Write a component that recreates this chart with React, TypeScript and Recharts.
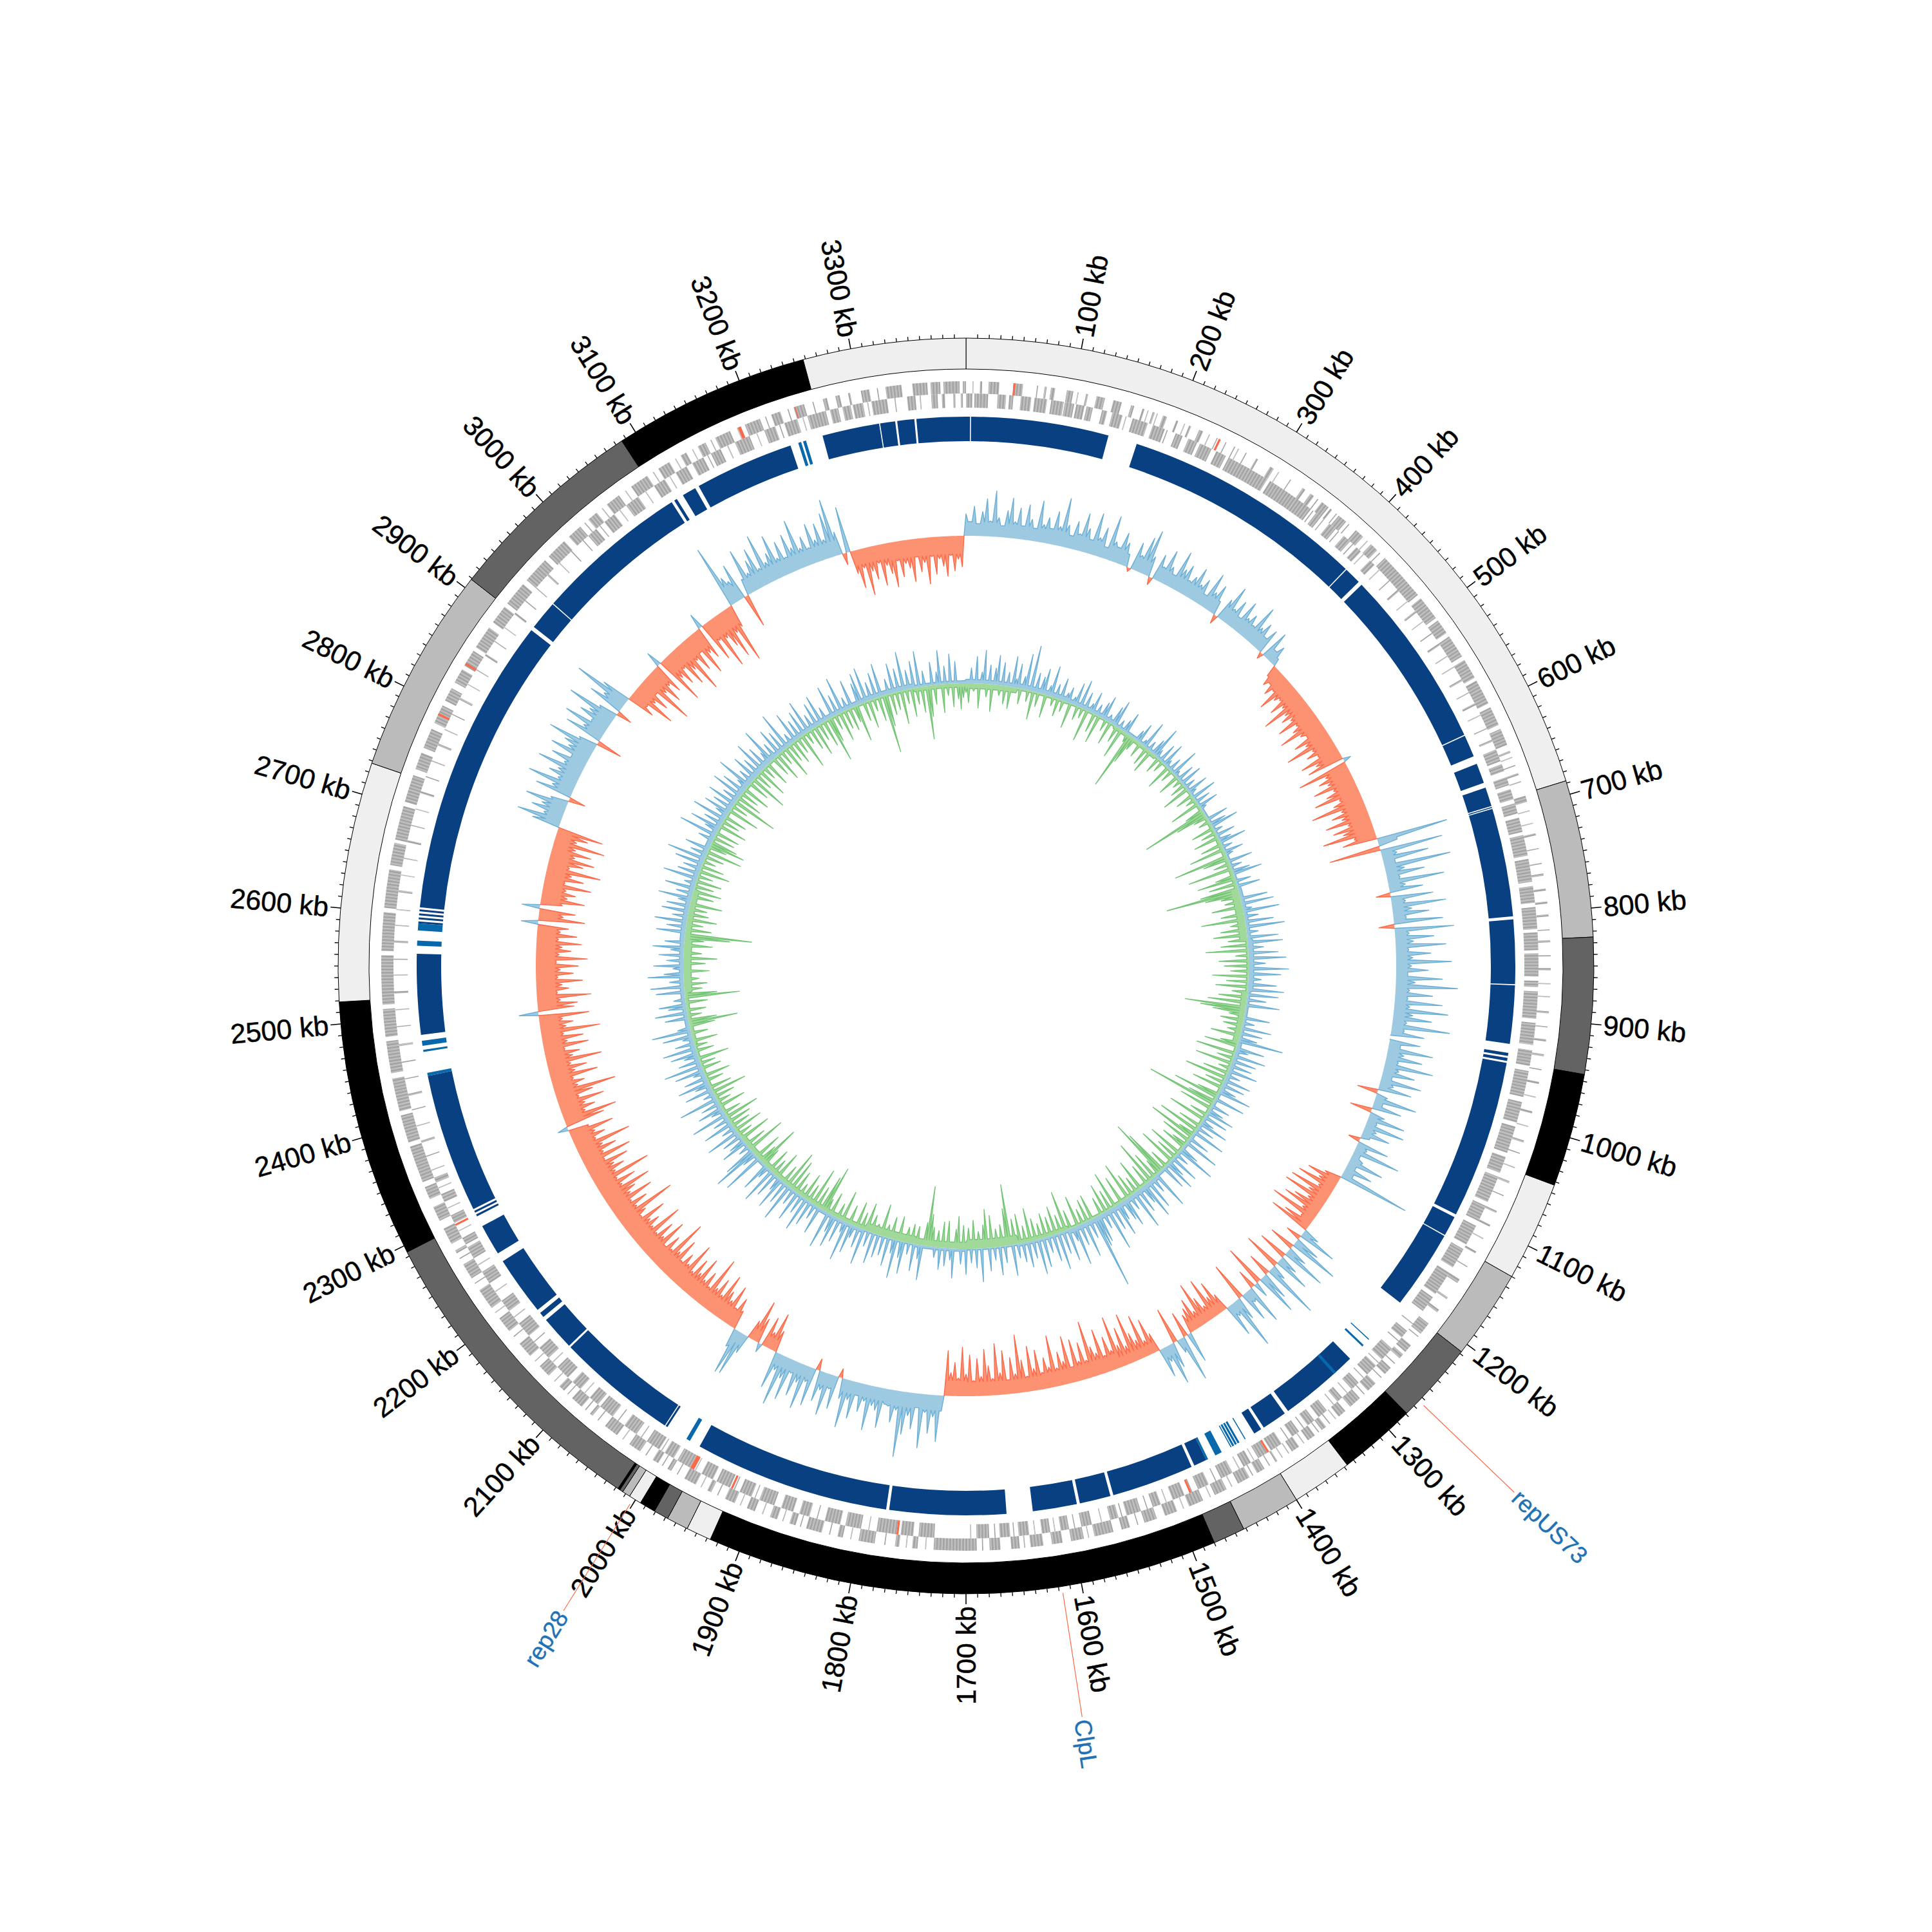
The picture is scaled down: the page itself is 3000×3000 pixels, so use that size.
import React from 'react';
import { PieChart, Pie, Cell, RadarChart, Radar, PolarAngleAxis, PolarRadiusAxis } from 'recharts';

const SIZE = 3000;
const CX = 1500;
const CY = 1500;
const TOTAL_KB = 3400;

// radii of the tracks, px
const RING_OUT = 975;
const RING_IN = 927;
const SKEW_R = 668;
const GC_R = 439;

const tickLabels = [100, 200, 300, 400, 500, 600, 700, 800, 900, 1000, 1100, 1200, 1300, 1400, 1500, 1600, 1700, 1800, 1900, 2000, 2100, 2200, 2300, 2400, 2500, 2600, 2700, 2800, 2900, 3000, 3100, 3200, 3300];

const annotationKb = [1264, 1617, 2002];
const annotationNames = ['repUS73', 'ClpL', 'rep28'];

// contig ring, edges in kb with the colour of each piece
const contigEdges = [0, 688, 825, 944, 1043, 1130, 1208, 1279, 1347, 1400, 1452, 1480, 1927, 1949, 1968, 1981, 1995, 2006, 2013, 2016, 2018, 2294, 2519, 2728, 2909, 3086, 3258, 3400];
const contigColors = ['#efefef', '#bbbbbb', '#636363', '#000000', '#efefef', '#bbbbbb', '#636363', '#000000', '#efefef', '#bbbbbb', '#636363', '#000000', '#efefef', '#bbbbbb', '#636363', '#000000', '#efefef', '#bbbbbb', '#636363', '#000000', '#636363', '#000000', '#efefef', '#bbbbbb', '#636363', '#000000', '#efefef'];

// start,end pairs in kb
const genesOuter = [
  6, 7, 13, 15, 21, 31, 44, 53, 66, 67, 73, 75, 79, 83, 94, 100, 104, 105, 112, 114, 122, 130, 138, 146, 155, 158, 166, 168, 171, 172, 176, 178, 180, 181, 186, 190, 199, 201, 207, 208, 212, 214, 222, 226, 232, 233, 240, 241, 249, 250, 258, 259, 262, 263, 270, 271, 281, 283, 296, 300,
  305, 306, 318, 319, 332, 335, 341, 345, 349, 350, 354, 362, 364, 366, 371, 372, 374, 383, 386, 387, 395, 404, 409, 410, 414, 422, 425, 426, 432, 478, 482, 505, 508, 522, 526, 548, 552, 571, 574, 598, 602, 620, 624, 640,
  646, 648, 652, 653, 660, 661, 668, 670, 676, 677, 690, 696, 704, 705, 716, 717, 726, 728, 740, 741, 754, 755, 764, 766, 778, 780, 790, 792, 802, 804, 816, 817, 826, 828, 840, 841, 852, 854, 866, 867, 878, 879, 892, 894, 906, 907, 918, 920, 932, 934, 946, 947, 958, 960, 972, 973, 986, 988,
  1000, 1001, 1014, 1016, 1026, 1027, 1040, 1041, 1054, 1056, 1068, 1069, 1084, 1086, 1098, 1100, 1112, 1113, 1126, 1128, 1142, 1143, 1156, 1160, 1176, 1178, 1190, 1193,
  1206, 1218, 1221, 1222, 1232, 1240, 1243, 1248, 1254, 1255, 1260, 1268, 1272, 1273, 1280, 1290, 1294, 1295, 1300, 1312, 1318, 1326, 1329, 1330, 1336, 1337, 1341, 1346, 1349, 1350, 1354, 1362, 1366, 1367, 1372, 1380, 1383, 1384, 1390, 1391, 1396, 1398, 1404, 1405, 1410, 1418, 1422, 1423, 1426, 1438, 1444, 1445, 1450, 1462, 1466, 1467, 1474, 1488, 1493, 1494, 1500, 1512, 1520, 1532, 1538, 1539, 1546, 1554, 1562, 1580, 1585, 1586, 1590, 1602, 1610, 1620, 1628, 1640, 1645, 1646, 1650, 1658, 1668, 1678, 1684, 1685, 1690, 1730,
  1737, 1738, 1745, 1750, 1755, 1756, 1762, 1766, 1775, 1776, 1785, 1800, 1807, 1808, 1815, 1820, 1827, 1828, 1835, 1850, 1855, 1856, 1860, 1866, 1872, 1873, 1878, 1885, 1892, 1893, 1900, 1908, 1914, 1915, 1920, 1930, 1937, 1938, 1944, 1948, 1954, 1955, 1960, 1972, 1979, 1980, 1986, 1990, 1995, 1996, 2000, 2006, 2013, 2014, 2020, 2032, 2039, 2040, 2046, 2060, 2068, 2069, 2075, 2078, 2083, 2084, 2088, 2100, 2105, 2106, 2110, 2116, 2122, 2123, 2130, 2142, 2148, 2149, 2155, 2170, 2178, 2179, 2185, 2200, 2206, 2207, 2212, 2232, 2239, 2240, 2245, 2260, 2266, 2267, 2272, 2275, 2282, 2298, 2306, 2320, 2328, 2340,
  2345, 2380, 2384, 2410, 2414, 2445, 2450, 2480, 2484, 2510, 2514, 2560, 2564, 2600, 2604, 2640, 2644, 2665, 2668, 2700, 2704, 2730, 2736, 2752, 2757, 2776, 2782, 2800, 2805, 2818, 2824, 2838, 2842, 2858, 2862, 2884, 2890, 2908, 2912, 2935, 2940, 2965, 2970, 2990,
  2996, 3010, 3015, 3016, 3020, 3030, 3036, 3037, 3042, 3056, 3063, 3064, 3070, 3088, 3094, 3095, 3100, 3112, 3118, 3119, 3124, 3130, 3136, 3137, 3142, 3150, 3155, 3156, 3160, 3175, 3182, 3183, 3190, 3205, 3210, 3211, 3216, 3225, 3232, 3233, 3238, 3248, 3256, 3257, 3266, 3270, 3278, 3282, 3290, 3292, 3302, 3310, 3317, 3318, 3325, 3340, 3350, 3364, 3367, 3376, 3379, 3394, 3397, 3400,
];
const genesInner = [
  0, 6, 8, 21, 30, 38, 41, 45, 52, 62, 65, 77, 81, 93, 94, 103, 105, 113, 115, 121, 130, 135, 140, 150, 153, 154, 160, 175, 180, 192, 194, 195, 203, 210, 216, 225, 228, 240, 245, 255, 258, 300, 303, 350, 352, 353, 356, 362, 365, 366, 372, 380, 383, 384, 390, 398, 401, 402, 406, 412, 415, 416, 424, 430,
  436, 437, 450, 451, 462, 464, 476, 477, 488, 490, 500, 501, 514, 515, 526, 528, 540, 541, 552, 553, 566, 568, 580, 581, 592, 594, 604, 605, 618, 619, 630, 632,
  640, 652, 655, 662, 668, 676, 680, 690, 694, 704, 708, 722, 725, 745, 748, 770, 774, 790, 794, 815, 818, 835, 838, 860, 864, 870, 874, 900, 904, 925, 930, 945, 950, 975, 980, 1000, 1004, 1030, 1034, 1050, 1054, 1080, 1084, 1100, 1105, 1125, 1130, 1150, 1156, 1180, 1184, 1200,
  1215, 1216, 1224, 1232, 1236, 1237, 1246, 1260, 1264, 1265, 1268, 1280, 1284, 1285, 1291, 1300, 1305, 1306, 1312, 1318, 1322, 1323, 1331, 1341, 1346, 1354, 1358, 1359, 1364, 1372, 1376, 1377, 1384, 1396, 1400, 1410, 1414, 1415, 1418, 1426, 1430, 1431, 1438, 1450, 1455, 1456, 1463, 1474, 1480, 1481, 1488, 1500, 1506, 1507, 1512, 1520, 1525, 1526, 1532, 1546, 1550, 1551, 1554, 1562, 1570, 1571, 1580, 1590, 1596, 1597, 1602, 1610, 1615, 1616, 1620, 1628, 1634, 1635, 1640, 1650, 1654, 1655, 1658, 1668, 1672, 1673, 1678, 1690, 1695, 1696,
  1730, 1745, 1750, 1762, 1766, 1785, 1792, 1793, 1800, 1815, 1820, 1835, 1842, 1843, 1850, 1860, 1866, 1878, 1885, 1900, 1904, 1905, 1908, 1920, 1925, 1926, 1930, 1944, 1948, 1960, 1966, 1967, 1972, 1986, 1990, 2000, 2003, 2004, 2006, 2020, 2026, 2027, 2032, 2046, 2053, 2054, 2060, 2075, 2078, 2088, 2094, 2095, 2100, 2110, 2116, 2130, 2136, 2137, 2142, 2155, 2162, 2163, 2170, 2185, 2192, 2193, 2200, 2212, 2222, 2223, 2232, 2245, 2252, 2253, 2260, 2272, 2275, 2282, 2289, 2290, 2298, 2306, 2313, 2314, 2320, 2328, 2334, 2335, 2340, 2345,
  2352, 2353, 2366, 2367, 2380, 2382, 2396, 2397, 2412, 2413, 2426, 2428, 2442, 2443, 2458, 2459, 2474, 2476, 2492, 2493, 2508, 2509, 2524, 2526, 2541, 2542, 2556, 2557, 2572, 2574, 2588, 2589, 2603, 2604, 2620, 2622, 2636, 2637, 2652, 2653, 2668, 2670, 2684, 2685, 2700, 2701, 2716, 2718, 2732, 2733, 2748, 2749, 2764, 2766, 2780, 2781, 2796, 2797, 2812, 2814, 2828, 2829, 2844, 2845, 2860, 2862, 2876, 2877, 2892, 2893, 2908, 2910, 2924, 2925, 2940, 2941, 2956, 2958, 2972, 2973, 2988, 2989,
  3003, 3004, 3010, 3020, 3024, 3025, 3030, 3042, 3048, 3049, 3056, 3070, 3078, 3079, 3088, 3100, 3105, 3106, 3112, 3124, 3130, 3142, 3146, 3147, 3150, 3160, 3167, 3168, 3175, 3190, 3197, 3198, 3205, 3216, 3220, 3221, 3225, 3238, 3243, 3244, 3248, 3266, 3270, 3278, 3282, 3290, 3292, 3302, 3306, 3307, 3310, 3325, 3332, 3333, 3344, 3352, 3356, 3357, 3367, 3373, 3377, 3380, 3388, 3390, 3395, 3397,
];
const redOuter = [44, 46, 242, 244, 2790, 2792, 2843, 2845, 3183, 3186, 3239, 3240];
const redInner = [1398, 1400, 1481, 1483, 1764, 1766, 1927, 1929, 1968, 1972, 2295, 2297];

// conserved blocks, start,end pairs in kb
const blocksMain = [
  0, 4, 5, 142, 171, 413, 414, 431, 435, 615, 616, 638, 646, 666, 671, 690, 691, 692, 693, 801, 804, 868, 869, 927, 936, 939, 941, 944, 946, 1104, 1107, 1127, 1128, 1207,
  1281, 1361, 1365, 1390, 1393, 1401, 1455, 1468, 1471, 1553, 1556, 1587, 1590, 1634, 1660, 1776, 1779, 1974, 2011, 2013, 2014, 2135, 2137, 2171, 2175, 2180, 2184, 2243, 2252, 2283,
  2294, 2296, 2298, 2300, 2302, 2441, 2482, 2562, 2592, 2594, 2596, 2598, 2600, 2602, 2604, 2606, 2608, 2906, 2910, 2939, 2940, 3094, 3097, 3100, 3107, 3121, 3125, 3224, 3257, 3314, 3315, 3330, 3332, 3349, 3351, 3400,
];
const blocksThin = [1254, 1255, 1262, 1264, 1300, 1303, 1411, 1412, 1418, 1420, 1421, 1423, 1424, 1426, 1427, 1428, 1438, 1445, 1453, 1455, 1985, 1989, 2441, 2444, 2465, 2467, 2471, 2476, 2570, 2575, 2585, 2592, 3232, 3235, 3237, 3240];

// GC skew needles, one value per 5 kb (20 to a line = 100 kb), px from the baseline, + outward
const skew = [
  34, 22, 46, 19, 38, 58, 24, 71, 30, 18, 42, 62, 26, 48, 21, 55, 33, 20, 64, 28,
  40, 24, 52, 30, 76, 35, 20, 44, 26, 60, 38, 22, 66, 29, 47, 18, 70, 31, 24, 50,
  36, 20, -6, 44, 26, 58, 72, 32, -12, 41, 24, 54, 30, 20, 62, 36, 46, 24, 34, 52,
  28, 40, 18, 58, 30, 46, 22, -14, 34, 60, 26, 44, 20, 52, 28, 38, 24, 62, 30, 42,
  22, 40, -10, 46, 18, 30, 12, -18, -32, -24, -40, -28, -58, -36, -30, -52, -34, -72, -38, -48,
  -36, -62, -34, -44, -70, -38, -30, -56, -40, -76, -35, -48, -32, -64, -42, -58, 12, -80, -38, -52,
  -40, -66, -36, -50, -72, -34, -46, -84, -38, -56, -42, -70, -36, -62, -48, -82, -34, -54, 112, 30,
  -80, 98, 24, 72, 18, 104, 30, 60, 20, 88, 26, 52, -22, 66, 22, 84, 30, 56, 20, 76,
  -24, 92, 22, 60, 28, 78, 20, 54, 26, 86, 24, 50, 18, 72, 30, 96, 22, 58, 20, 74,
  24, 84, 30, 60, 22, 90, 20, 52, 0, 48, 18, 70, 26, 56, 20, 76, 24, 50, 16, 64,
  22, 52, -32, 18, 66, 14, 46, -34, 24, 58, 16, 62, 20, 44, 14, -18, 50, 18, 74, 12,
  20, 56, 14, 44, 16, 112, -26, -52, -30, -62, -24, -68, -34, -72, -28, -48, -62, -26, -76, -20,
  -46, -66, 26, 60, -24, 40, 78, -40, 32, 70, -46, 30, 56, -58, 24, 88, -36, 44, 66, -64,
  24, -30, 62, 20, 48, -60, 36, 82, 22, 52, -28, -54, -32, -66, -24, -42, -70, -26, -50, -38,
  -30, 48, -40, 72, 22, -56, 40, 64, 24, 46, -30, -56, -24, -68, -30, -44, -78, -28, -60, -34,
  -82, -30, -54, -26, -70, -34, -46, -88, -28, -58, -30, -66, -24, -74, -36, -52, -28, -80, -32, -48,
  -26, -62, -34, -70, -24, -50, -90, -30, -56, -22, -68, -34, -80, -26, -46, -72, -30, -58, -24, -64,
  -34, -76, -28, -52, -36, -70, 24, 72, 34, 60, 28, 84, 22, 56, 36, 66, 102, 30, 50, 26,
  24, 62, 36, 30, 70, 26, 44, 20, 58, 30, 76, 32, -14, 52, 22, 66, 28, 48, -18, 60,
  24, 70, 30, 54, 20, 66, 34, 80, 26, 58, -34, -60, -26, -48, 14, -40, -66, -30, 30, 70,
  72, 30, -30, -48, -28, -62, -34, -46, -70, -32, -56, -36, -84, -30, -52, -34, -68, -38, -58, -32,
  -76, -36, -50, -32, -66, -40, -90, -34, -54, -30, -72, -38, -60, -34, -82, -36, -52, -40, -70, -32,
  -44, -96, -36, -58, -34, -74, -40, -52, -80, -36, -62, -34, -92, -38, -56, -42, -68, -32, -78, -36,
  -60, -40, -88, -34, -52, -38, -70, -32, 16, -62, -84, -36, -54, -40, -72, -34, -58, -96, -38, -50,
  -34, -74, -40, -60, -36, -86, -42, -54, -32, -70, -38, -64, -34, -92, -40, -52, -36, -78, 30, -56,
  -62, -36, -84, -32, -50, -40, -72, -34, -58, -38, -66, -32, -80, -36, -54, -40, -70, -34, -62, -36,
  -48, 26, -72, -38, -56, 28, -34, -68, -40, -52, -36, -74, -32, -60, -40, -84, -34, -54, -70, -38,
  -62, -36, -80, -34, -50, -72, 44, 70, 30, 52, 38, 66, 28, -26, 58, 34, 76, 30, 48, 36,
  72, 32, 56, 26, 64, 38, 48, 78, 30, -40, 60, 34, 70, 28, 52, 40, 80, 30, -24, 56,
  36, 90, 46, -44, -30, -72, -36, -54, -28, -86, -38, -60, -34, -50, 24, -78, -40, -56, -32, -66,
  -44, -86, -36, -58, -30, -72, -40, -52, 24, -64, -34, -84, -38, -56, -78, -40, -92, -36, 100, 44,
  34, 58, -52, 26, 72, 30, 48, 64, 28, 80, 32, 44, 70, 30, 54, 26, 60, 36, 78, 30,
  46, 26, 62, 34, 58, 30, 70, 90, 36, -18, 72, -36, -60, -30, -74, -38, -52, -28, -64, -34,
  -48, -70, -30, -56, -36, -44, -66, -28, -52, -38, -72, -30, -58, -34, -46, -62, -30, -54, -36, -48,
];

// thickness of the solid band under the skew needles, one per 100 kb
const skewBand = [22, 24, 22, 22, 26, 30, 30, 18, 18, 18, 14, 18, 14, 16, 16, 24, 22, 24, 20, 18, 26, 30, 30, 30, 30, 30, 30, 24, 26, 28, 30, 24, 24, 28];

// GC content needles, same spacing, + outward in blue, - inward in green
const gc = [
  -14, -30, 24, -12, 42, -38, 18, 52, -20, 30, -42, 26, 46, -16, 36, -28, 22, -34, 48, 14,
  38, -24, 20, 56, -18, 71, -44, 30, -22, 26, 40, -36, 16, 48, -14, 22, -28, 34, -18, 14,
  24, -40, 12, 36, -22, 44, -16, 28, -50, 14, 34, -30, 18, -44, 26, 38, -18, 12, -36, 30,
  42, -26, 14, -48, 20, 34, -14, -92, -46, -20, 18, 32, -24, 10, 44, -30, 16, -38, 26, 50,
  14, -26, 30, -18, 38, 12, -40, 22, -20, 46, 10, -34, 28, -14, 36, -24, 18, -44, 34, 12,
  -28, 40, -16, 24, -48, 32, 10, -30, -105, -50, -22, 34, -18, 26, 44, -36, 14, -24, 30, -40,
  20, 42, -34, 16, -56, 30, 12, -86, -40, 38, -26, 18, -70, 28, 46, -30, -60, 24, -44, 36,
  -60, -115, -54, -30, 42, -26, 50, -48, 14, 56, -36, 22, -68, 44, -24, 60, -40, 18, -52, 48,
  -30, 54, -42, 24, -66, 46, -20, 58, -46, 26, -38, 62, -28, 50, -56, 20, -34, 44, -50, 56,
  -24, 48, -44, 30, -60, 52, -95, -70, -50, -24, 40, -36, 18, -30, 46, -22, 34, -46, 28, 70,
  -28, -52, 44, 20, -62, 50, -26, 38, -58, 34, -18, 46, -40, 22, -66, 42, -30, 36, -48, 26,
  52, -34, -72, 48, -44, -110, 30, -52, 24, 44, -28, 38, -60, 20, 46, -36, 28, -66, 52, -26,
  -75, 34, -48, 56, -24, -40, 30, 62, -54, 22, -34, 46, -60, 28, 50, -30, 40, -72, -95, -26,
  60, -44, 26, -70, 48, -34, 58, 30, -50, 40, -26, 62, -36, 24, -60, 46, 34, -44, 28, 52,
  -58, 38, -32, 66, -46, 26, -28, 44, 50, 115, -40, 30, -36, 56, -24, 34, -48, 62, 22, -30,
  50, -63, 36, -28, 58, -44, 42, -30, 26, -38, 46, -24, 55, -34, 28, -52, 40, -26, 30, -46,
  22, -40, 48, -95, -58, 26, -34, 44, -28, 20, -50, 36, -60, -36, 52, -26, 30, -44, 22, -32,
  40, -36, 24, -50, -30, 46, 18, -42, 28, -40, 34, -26, 16, -30, -50, -93, -36, 54, 22, -28,
  42, -30, 18, -24, 50, 26, -38, 60, 22, -34, 44, -20, 30, -50, 36, -16, 48, -28, 24, -44,
  56, -26, 32, -40, 20, 46, -30, 62, 18, -48, 38, -24, 50, 28, -36, 58, -22, -74, -56, 44,
  -34, 24, -60, 40, -28, 54, -42, 30, -20, 48, -36, 26, -50, 60, -60, 36, -30, 52, 22, -44,
  40, -26, 58, -38, 20, 46, -30, -67, -30, 66, -44, 24, 73, 50, -62, 18, -34, 42, 26, -50,
  32, -24, 54, -46, 22, -30, 48, -36, 26, -54, 58, -28, 20, 40, -42, 30, -22, 62, -32, 18,
  -55, 44, -34, 24, 50, -26, 36, -40, 18, 46, -30, 60, -24, 34, -48, 22, 42, -28, 52, -20,
  30, -38, 16, 46, -26, 61, 20, -40, -76, -44, 36, -22, 50, -30, 28, 42, -34, 18, -85, -50,
  44, -28, 52, -36, 22, -24, 55, 30, -40, 16, 46, -34, 26, -52, 38, -28, 20, 48, -44, 30,
  -30, -70, -104, 45, -40, 30, -26, 50, -46, 24, -32, 42, -28, 36, -50, 20, 52, -34, 26, -44,
  46, -30, 18, -40, 54, -24, 34, -48, 28, -36, 44, -20, 60, -30, 26, -56, 38, -28, -56, -42,
  24, -34, 60, -38, 22, 48, -44, 30, -28, 54, -36, 20, 42, -50, 32, -26, 46, -71, 26, -40,
  50, -30, 38, -44, 18, 56, -34, 24, -60, 42, -28, 30, -48, 52, -22, 36, -40, 20, 58, -32,
  26, -46, 44, -24, 34, -52, 60, -30, 18, -38, 48, -26, 30, -56, 40, -20, 52, -34, 24, -48,
  38, -28, 46, -42, 22, -71, -40, 50, -24, 32, -46, 56, -30, 20, -36, 44, -26, -58, 34, 48,
  -30, 54, -44, 28, -20, 40, -38, 52, -91, -50, 24, -34, 46, -28, 36, -52, 60, -22, 30, -44,
  42, -26, 56, -40, 24, -83, -48, 36, -30, 20, 53, -44, 28, -18, 46, -36, 34, -24, -40, -22,
];

// solid bands under the GC needles, one per 100 kb
const gcBlueBand = [6, 7, 6, 4, 4, 3, 3, 5, 8, 4, 6, 4, 4, 7, 7, 4, 2, 4, 2, 5, 4, 4, 6, 7, 6, 6, 7, 7, 7, 8, 6, 6, 7, 4];
const gcGreenBand = [8, 3, 2, 5, 2, 4, 5, 12, 3, 9, 3, 3, 3, 4, 3, 6, 14, 10, 12, 6, 6, 7, 4, 3, 5, 12, 9, 3, 3, 3, 3, 3, 3, 6];

const toSpans = (pairs: number[]) => {
  const spans: { span: number; on: boolean }[] = [];
  let at = 0;
  for (let i = 0; i < pairs.length; i += 2) {
    if (pairs[i] > at) spans.push({ span: pairs[i] - at, on: false });
    spans.push({ span: pairs[i + 1] - pairs[i], on: true });
    at = pairs[i + 1];
  }
  if (at < TOTAL_KB) spans.push({ span: TOTAL_KB - at, on: false });
  return spans;
};

const contigData = contigColors.map((color, i) => ({ span: contigEdges[i + 1] - contigEdges[i], color }));

// each needle is followed by a point on the band, so the needles stand on solid ground
const trackData = skew.flatMap((v, i) => {
  const row = Math.floor(i / 20);
  const next = skew[(i + 1) % skew.length];
  const blue = gcBlueBand[row];
  const green = gcGreenBand[row];
  const floor = v * next > 0 ? Math.sign(v) * Math.min(skewBand[row], Math.abs(v), Math.abs(next)) : 0;
  return [
    { kb: i * 5, skew: v, gcUp: Math.max(gc[i], blue), gcDown: Math.min(gc[i], -green) },
    { kb: i * 5 + 2.5, skew: floor, gcUp: blue, gcDown: -green },
  ];
});
const tickKb = Array.from({ length: 339 }, (_, i) => (i + 1) * 10);

const polar = (r: number, angle: number) => {
  const rad = (-angle * Math.PI) / 180;
  return { x: CX + r * Math.cos(rad), y: CY + r * Math.sin(rad) };
};

const FONT = '"Liberation Sans Narrow", "Liberation Sans", sans-serif';

// tick marks, kb labels and the three gene call-outs
const AxisTick = (props: any) => {
  const kb = props.payload.value;
  const angle = props.payload.coordinate;
  const theta = 90 - angle;
  const right = theta < 178;
  const annotation = annotationKb.indexOf(kb);
  if (annotation >= 0) {
    const a = polar(985, angle);
    const b = polar(1180, angle);
    const t = polar(1184, angle);
    return (
      <g>
        <line x1={a.x} y1={a.y} x2={b.x} y2={b.y} stroke="#fb6a4a" strokeWidth={1.2} />
        <text x={t.x} y={t.y} dy="0.35em" fontSize={37} fontFamily={FONT} fill="#2171b5" stroke="#2171b5" strokeWidth={0.4}
          textAnchor={right ? 'start' : 'end'} transform={`rotate(${right ? theta - 90 : theta + 90} ${t.x} ${t.y})`}>
          {annotationNames[annotation]}
        </text>
      </g>
    );
  }
  const major = kb % 100 === 0;
  const a = polar(RING_OUT, angle);
  const b = polar(RING_OUT + (major ? 16 : 6), angle);
  const t = polar(RING_OUT + 19, angle);
  return (
    <g>
      <line x1={a.x} y1={a.y} x2={b.x} y2={b.y} stroke="#000" strokeWidth={major ? 1.6 : 1.3} />
      {major && tickLabels.includes(kb) ? (
        <text x={t.x} y={t.y} dy="0.35em" fontSize={43} fontFamily={FONT} fill="#000" stroke="#000" strokeWidth={0.5}
          textAnchor={right ? 'start' : 'end'} transform={`rotate(${right ? theta - 90 : theta + 90} ${t.x} ${t.y})`}>
          {`${kb} kb`}
        </text>
      ) : null}
    </g>
  );
};

// filled between baseline and value, outline only where the value leaves the baseline
const trackShape = (baseR: number, fill: string, stroke: string) => (props: any) => {
  const pts = props.points || [];
  const outer = pts.map((p: any, i: number) => `${i ? 'L' : 'M'}${p.x},${p.y}`).join('') + 'Z';
  const base = pts.map((p: any, i: number) => {
    const q = polar(baseR, p.angle);
    return `${i ? 'L' : 'M'}${q.x},${q.y}`;
  }).join('') + 'Z';
  let line = '';
  pts.forEach((p: any, i: number) => {
    const n = pts[(i + 1) % pts.length];
    if (Math.abs(p.radius - baseR) > 0.5 || Math.abs(n.radius - baseR) > 0.5) {
      line += `M${p.x},${p.y}L${n.x},${n.y}`;
    }
  });
  return (
    <g>
      <path d={outer + base} fill={fill} fillRule="evenodd" stroke="none" />
      <path d={line} fill="none" stroke={stroke} strokeWidth={1.4} strokeLinecap="round" />
    </g>
  );
};

const ringProps = {
  dataKey: 'span',
  cx: CX,
  cy: CY,
  startAngle: 90,
  endAngle: -270,
  isAnimationActive: false,
  stroke: 'none',
};

const ring = (key: string, pairs: number[], color: string, inner: number, outer: number) => (
  <Pie key={key} {...ringProps} data={toSpans(pairs)} innerRadius={inner} outerRadius={outer}>
    {toSpans(pairs).map((d, i) => (
      <Cell key={i} fill={d.on ? color : 'none'} stroke="none" />
    ))}
  </Pie>
);

export default function App() {
  return (
    <div style={{ position: 'absolute', left: 0, top: 0, width: SIZE, height: SIZE, background: '#fff' }}>
      <div style={{ position: 'absolute', left: 0, top: 0 }}>
        <PieChart width={SIZE} height={SIZE} margin={{ top: 0, right: 0, bottom: 0, left: 0 }}>
          <Pie {...ringProps} data={contigData} innerRadius={RING_IN} outerRadius={RING_OUT} stroke="#000" strokeWidth={1}>
            {contigData.map((d, i) => (
              <Cell key={i} fill={d.color} />
            ))}
          </Pie>
          {ring('outer', genesOuter, '#a3a3a3', 889, 908)}
          {ring('inner', genesInner, '#a3a3a3', 867, 889)}
          {/* fine stripes across the gene rows: a dashed wide stroke, purely a texture */}
          <Pie {...ringProps} data={[{ span: 1 }]} innerRadius={888} outerRadius={888} fill="none">
            <Cell fill="none" stroke="#fff" strokeWidth={44} strokeOpacity={0.4} strokeDasharray="1 4" />
          </Pie>
          {ring('redOuter', redOuter, '#fb6a4a', 889, 908)}
          {ring('redInner', redInner, '#fb6a4a', 867, 889)}
          {ring('main', blocksMain, '#084081', 815, 853)}
          {ring('thin', blocksThin, '#0868ac', 815, 853)}
        </PieChart>
      </div>
      <div style={{ position: 'absolute', left: 0, top: 0 }}>
        <RadarChart width={SIZE} height={SIZE} cx={CX} cy={CY} outerRadius={1000} startAngle={90} endAngle={-270}
          data={trackData} margin={{ top: 0, right: 0, bottom: 0, left: 0 }}>
          <PolarAngleAxis type="number" dataKey="kb" domain={[0, TOTAL_KB]} ticks={[...tickKb, ...annotationKb]}
            tick={AxisTick} tickLine={false} axisLine={false} />
          <PolarRadiusAxis type="number" domain={[0, 1000]} tick={false} axisLine={false} />
          <Radar dataKey={(d: any) => [SKEW_R, SKEW_R + Math.max(d.skew, 0)]} isAnimationActive={false} shape={trackShape(SKEW_R, '#9ecae1', '#6baed6')} />
          <Radar dataKey={(d: any) => [SKEW_R, SKEW_R + Math.min(d.skew, 0)]} isAnimationActive={false} shape={trackShape(SKEW_R, '#fc9272', '#fb6a4a')} />
          <Radar dataKey={(d: any) => [GC_R, GC_R + d.gcUp]} isAnimationActive={false} shape={trackShape(GC_R, '#9ecae1', '#6baed6')} />
          <Radar dataKey={(d: any) => [GC_R, GC_R + d.gcDown]} isAnimationActive={false} shape={trackShape(GC_R, '#a1d99b', '#74c476')} />
        </RadarChart>
      </div>
    </div>
  );
}
